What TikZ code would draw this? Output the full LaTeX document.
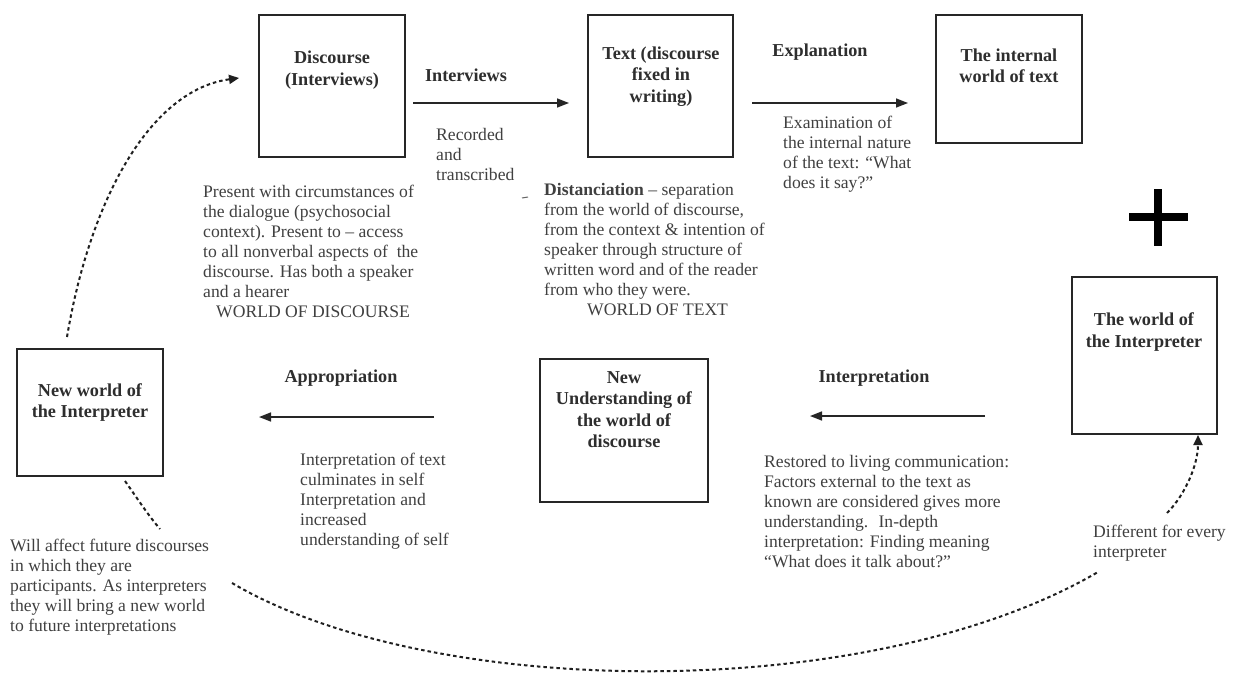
\documentclass[tikz,border=0pt]{standalone}
\usepackage{fontspec}
\setmainfont{Liberation Serif}
\usetikzlibrary{arrows.meta}
\begin{document}
\begin{tikzpicture}[x=1pt,y=-1pt,
  box/.style={draw=black!85, line width=1.9pt, inner sep=0pt},
  title/.style={font=\fontsize{18.2}{21.5}\selectfont\bfseries, align=center, text=black!82, inner sep=0pt},
  desc/.style={font=\fontsize{17.6}{20}\selectfont, align=left, text=black!75, inner sep=0pt, anchor=north west},
  arr/.style={draw=black!85, line width=1.5pt, -{Triangle[length=12pt,width=9pt]}},
  dotline/.style={draw=black!88, line width=2pt, dash pattern=on 3.5pt off 3pt},
  dottip/.style={-{Triangle[length=10pt,width=9pt]}}
]
\fill[white] (0,0) rectangle (1234,675);
\useasboundingbox (0,0) rectangle (1234,675);

% boxes
\node[box, minimum width=146pt, minimum height=142pt] (disc) at (332,86) {};
\node[box, minimum width=145pt, minimum height=142pt] (text) at (660.5,86) {};
\node[box, minimum width=146pt, minimum height=128pt] (inner) at (1009,79) {};
\node[box, minimum width=145pt, minimum height=157pt] (wint) at (1144.5,355.5) {};
\node[box, minimum width=146pt, minimum height=127pt] (nwi) at (90,412.5) {};
\node[box, minimum width=168pt, minimum height=143pt] (nund) at (624,430.5) {};

% box titles
\node[title] (disct) at (332,70) {Discourse\\(Interviews)};
\node[title] (textt) at (661,76.5) {Text (discourse\\fixed in\\writing)};
\node[title] (innert) at (1009,66) {The internal\\world of text};
\node[title] (wintt) at (1144,332) {The world of\\the Interpreter};
\node[title] (nwit) at (90,402.5) {New world of\\the Interpreter};
\node[title] (nundt) at (624,409.5) {New\\Understanding of\\the world of\\discourse};

% arrow labels
\node[title] (lint) at (466,75) {Interviews};
\node[title] (lexp) at (820,52) {Explanation};
\node[title] (lapp) at (341,378) {Appropriation};
\node[title] (linterp) at (874,378) {Interpretation};

% descriptions
\node[desc] (drec) at (436,128) {Recorded\\and\\transcribed};
\node[desc] (dpres) at (203,185) {Present with circumstances of\\the dialogue (psychosocial\\context). Present to -- access\\to all nonverbal aspects of~ the\\discourse. Has both a speaker\\and a hearer\\\hspace*{13pt}WORLD OF DISCOURSE};
\node[desc] (ddist) at (544,183) {\textbf{Distanciation} -- separation\\from the world of discourse,\\from the context \& intention of\\speaker through structure of\\written word and of the reader\\from who they were.\\\hspace*{43pt}WORLD OF TEXT};
\node[desc] (dexam) at (783,116) {Examination of\\the internal nature\\of the text: ``What\\does it say?''};
\node[desc] (dapp) at (300,453) {Interpretation of text\\culminates in self\\Interpretation and\\increased\\understanding of self};
\node[desc] (drest) at (764,455) {Restored to living communication:\\Factors external to the text as\\known are considered gives more\\understanding.~ In-depth\\interpretation: Finding meaning\\``What does it talk about?''};
\node[desc] (dwill) at (10,539) {Will affect future discourses\\in which they are\\participants. As interpreters\\they will bring a new world\\to future interpretations};
\node[desc] (ddiff) at (1093,525) {Different for every\\interpreter};

% horizontal arrows
\coordinate (a1s) at (413,103); \coordinate (a1e) at (569,103);
\coordinate (a2s) at (752,103); \coordinate (a2e) at (908,103);
\coordinate (a3s) at (434,417); \coordinate (a3e) at (259,417);
\coordinate (a4s) at (985,416); \coordinate (a4e) at (810,416);
\draw[arr] (a1s) -- (a1e);
\draw[arr] (a2s) -- (a2e);
\draw[arr] (a3s) -- (a3e);
\draw[arr] (a4s) -- (a4e);

% plus sign
\draw[line width=7.5pt, black] (1129,217) -- (1188,217);
\draw[line width=7.5pt, black] (1158,189) -- (1158,246);

% stray mark
\draw[line width=1pt, black!60] (522,198) -- (528,197);

% dashed curves
\coordinate (c1s) at (67,337); \coordinate (c1e) at (239,78);
\draw[dotline, dottip] (c1s) .. controls (90,200) and (150,90) .. (c1e);
\coordinate (c2s) at (125,481); \coordinate (c2e) at (160,529);
\draw[dotline] (c2s) .. controls (137,498) and (148,515) .. (c2e);
\coordinate (c3s) at (232,583); \coordinate (c3e) at (1098,572);
\draw[dotline] (c3s) .. controls (430,700) and (870,705) .. (c3e);
\coordinate (c4s) at (1167,513); \coordinate (c4e) at (1198,435);
\draw[dotline, dottip] (c4s) .. controls (1185,495) and (1198,465) .. (c4e);
\end{tikzpicture}
\end{document}
